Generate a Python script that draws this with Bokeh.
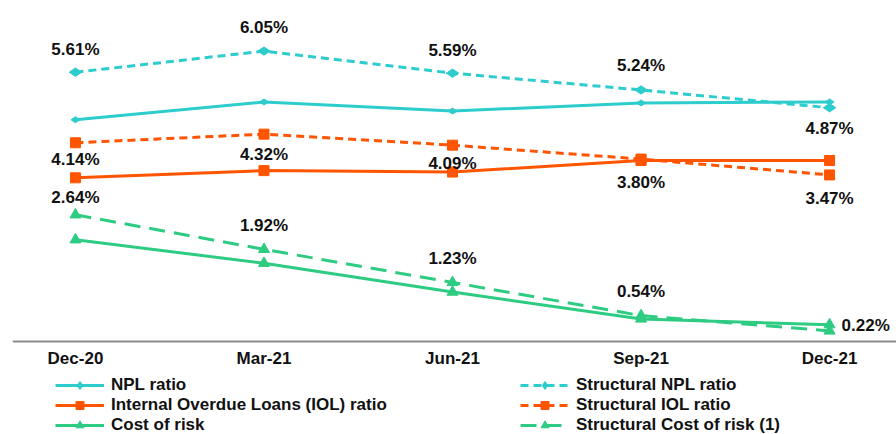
import math
from bokeh.plotting import figure
from bokeh.models import (ColumnDataSource, Range1d, FixedTicker, Legend, LegendItem, LabelSet)
from bokeh.core.properties import value
from bokeh.embed import file_html
from bokeh.resources import INLINE

# ---- data ----
categories = ["Dec-20", "Mar-21", "Jun-21", "Sep-21", "Dec-21"]
npl_ratio = [4.62, 4.99, 4.80, 4.97, 4.99]
structural_npl_ratio = [5.61, 6.05, 5.59, 5.24, 4.87]
iol_ratio = [3.41, 3.56, 3.53, 3.77, 3.77]
structural_iol_ratio = [4.14, 4.32, 4.09, 3.80, 3.47]
cost_of_risk = [2.12, 1.63, 1.03, 0.47, 0.35]
structural_cost_of_risk = [2.64, 1.92, 1.23, 0.54, 0.22]

# label placement per point (style only): (side, pixel gap of label centre)
npl_label_pos = [("above", 23), ("above", 24), ("above", 23), ("above", 24), ("below", 21)]
iol_label_pos = [("below", 17), ("below", 20), ("below", 18), ("below", 23), ("below", 24)]
cor_label_pos = [("above", 17), ("above", 24), ("above", 24), ("above", 24), ("right", 5)]

CYAN = "#2DCCCD"
ORANGE = "#FF5400"
GREEN = "#2DCC82"
FONT = "Liberation Sans"
TXT = "#111111"

xs = list(range(len(categories)))

p = figure(width=896, height=434, output_backend="svg", toolbar_location=None,
           x_range=Range1d(-0.334, 4.355), y_range=Range1d(-1.9375, 7.104),
           min_border_left=12, min_border_right=0, min_border_top=0, min_border_bottom=0,
           outline_line_color=None)
p.grid.visible = False
p.yaxis.visible = False
p.background_fill_color = "white"

xa = p.xaxis[0]
xa.fixed_location = 0
xa.ticker = FixedTicker(ticks=xs)
xa.major_label_overrides = {i: c for i, c in enumerate(categories)}
xa.axis_line_color = "#8C8C8C"
xa.axis_line_width = 2
xa.major_tick_line_color = None
xa.minor_tick_line_color = None
xa.major_tick_out = 0
xa.major_label_text_font = FONT
xa.major_label_text_font_style = "bold"
xa.major_label_text_font_size = "17px"
xa.major_label_text_color = TXT
xa.major_label_standoff = 8


def series(vals, color, marker, size, dash, angle=0.0, lw=3):
    src = ColumnDataSource(dict(x=xs, y=vals))
    ln = p.line("x", "y", source=src, line_color=color, line_width=lw, line_dash=dash)
    mk = p.scatter("x", "y", source=src, marker=marker, size=size, angle=angle,
                   fill_color=color, line_color=color)
    return ln, mk


r_npl = series(npl_ratio, CYAN, "diamond", 9, "solid", angle=math.pi / 2)
r_snpl = series(structural_npl_ratio, CYAN, "diamond", 12.5, "8 5", angle=math.pi / 2)
r_iol = series(iol_ratio, ORANGE, "square", 10, "solid")
r_siol = series(structural_iol_ratio, ORANGE, "square", 10, "8 5")
r_cor = series(cost_of_risk, GREEN, "triangle", 11, "solid")
r_scor = series(structural_cost_of_risk, GREEN, "triangle", 11, "16 9")


def labels(vals, positions):
    xo, yo, al = [], [], []
    for side, gap in positions:
        if side == "above":
            xo.append(0); yo.append(gap); al.append("center")
        elif side == "below":
            xo.append(0); yo.append(-gap); al.append("center")
        else:
            xo.append(12); yo.append(gap); al.append("left")
    src = ColumnDataSource(dict(x=xs, y=vals, t=["%.2f%%" % v for v in vals],
                                xo=xo, yo=yo, al=al))
    ls = LabelSet(x="x", y="y", text="t", source=src, x_offset="xo", y_offset="yo",
                  text_align="al", text_baseline="middle", text_font=value(FONT),
                  text_font_style="bold", text_font_size="17px", text_color=TXT)
    p.add_layout(ls)


labels(structural_npl_ratio, npl_label_pos)
labels(structural_iol_ratio, iol_label_pos)
labels(structural_cost_of_risk, cor_label_pos)


def make_legend(items, loc):
    lg = Legend(items=items, location=loc, orientation="vertical",
                label_text_font=FONT, label_text_font_style="bold",
                label_text_font_size="17px", label_text_color=TXT,
                glyph_width=49, glyph_height=20, label_height=20, label_standoff=7,
                spacing=0, padding=0, margin=0, border_line_color=None,
                background_fill_alpha=0)
    p.add_layout(lg)


make_legend([LegendItem(label="NPL ratio", renderers=list(r_npl)),
             LegendItem(label="Internal Overdue Loans (IOL) ratio", renderers=list(r_iol)),
             LegendItem(label="Cost of risk", renderers=list(r_cor))], (43, -1))
make_legend([LegendItem(label="Structural NPL ratio", renderers=list(r_snpl)),
             LegendItem(label="Structural IOL ratio", renderers=list(r_siol)),
             LegendItem(label="Structural Cost of risk (1)", renderers=list(r_scor))], (508, -1))

open("out.html", "w").write(file_html(p, INLINE))
